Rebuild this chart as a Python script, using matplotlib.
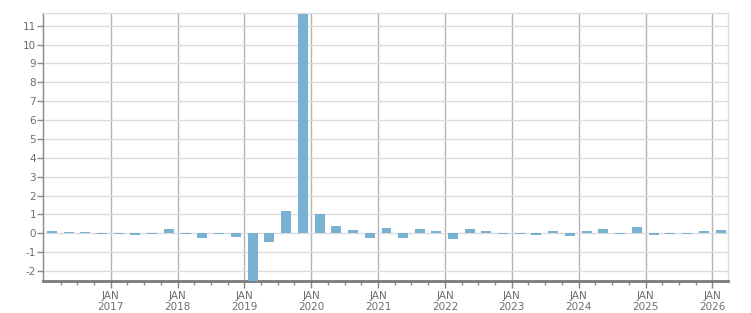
import matplotlib
matplotlib.use("Agg")
import matplotlib.pyplot as plt
import matplotlib.dates as mdates
from datetime import datetime

quarters = [
    "2016Q1", "2016Q2", "2016Q3", "2016Q4",
    "2017Q1", "2017Q2", "2017Q3", "2017Q4",
    "2018Q1", "2018Q2", "2018Q3", "2018Q4",
    "2019Q1", "2019Q2", "2019Q3", "2019Q4",
    "2020Q1", "2020Q2", "2020Q3", "2020Q4",
    "2021Q1", "2021Q2", "2021Q3", "2021Q4",
    "2022Q1", "2022Q2", "2022Q3", "2022Q4",
    "2023Q1", "2023Q2", "2023Q3", "2023Q4",
    "2024Q1", "2024Q2", "2024Q3", "2024Q4",
    "2025Q1", "2025Q2", "2025Q3", "2025Q4",
    "2026Q1",
]
values = [
    0.11, 0.05, 0.05, -0.04,
    -0.04, -0.10, -0.04, 0.22,
    -0.04, -0.27, -0.04, -0.20,
    -2.70, -0.46, 1.18, 11.62,
    1.02, 0.38, 0.16, -0.27,
    0.27, -0.27, 0.21, 0.11,
    -0.32, 0.21, 0.11, -0.04,
    -0.04, -0.10, 0.10, -0.16,
    0.10, 0.21, -0.04, 0.32,
    -0.10, -0.04, -0.04, 0.10,
    0.15,
]
years = list(range(2017, 2027))
y_ticks = list(range(-2, 12))

mid_month = {"Q1": 2, "Q2": 5, "Q3": 8, "Q4": 11}
dates = [datetime(int(q[:4]), mid_month[q[4:]], 15) for q in quarters]

BAR = "#79b1d3"
TXT = "#6e6e6e"

fig = plt.figure(figsize=(7.51, 3.13), dpi=100)
ax = fig.add_axes([43 / 751, 1 - 281 / 313, (728 - 43) / 751, (281 - 13) / 313])

ax.bar(dates, values, width=54.5, color=BAR, zorder=3, align="center")

ax.set_xlim(datetime(2015, 12, 27), datetime(2026, 3, 27))
ax.set_ylim(-2.53, 11.67)

ax.set_yticks(y_ticks)
ax.set_yticklabels([str(v) for v in y_ticks])
ax.yaxis.grid(True, color="#dcdcdc", linewidth=1.0, zorder=0)

ax.set_xticks([datetime(y, 1, 1) for y in years])
ax.set_xticklabels([f"JAN\n{y}" for y in years], linespacing=1.15)
ax.xaxis.set_minor_locator(mdates.MonthLocator(bymonth=[4, 7, 10]))
ax.xaxis.grid(True, which="major", color="#b4b4b4", linewidth=1.0, zorder=1)

ax.tick_params(axis="y", length=4, width=1, color="#888888", pad=1,
               labelsize=7.5, labelcolor=TXT)
ax.tick_params(axis="x", which="major", length=5, width=1, color="#888888",
               pad=2, labelsize=7.5, labelcolor=TXT)
ax.tick_params(axis="x", which="minor", length=3, width=1, color="#888888")

for s in ["top", "right"]:
    ax.spines[s].set_color("#dcdcdc")
    ax.spines[s].set_linewidth(1.0)
ax.spines["left"].set_color("#888888")
ax.spines["left"].set_linewidth(1.0)
ax.spines["bottom"].set_color("#7a7a7a")
ax.spines["bottom"].set_linewidth(2.0)

fig.savefig("out.png", dpi=100)
